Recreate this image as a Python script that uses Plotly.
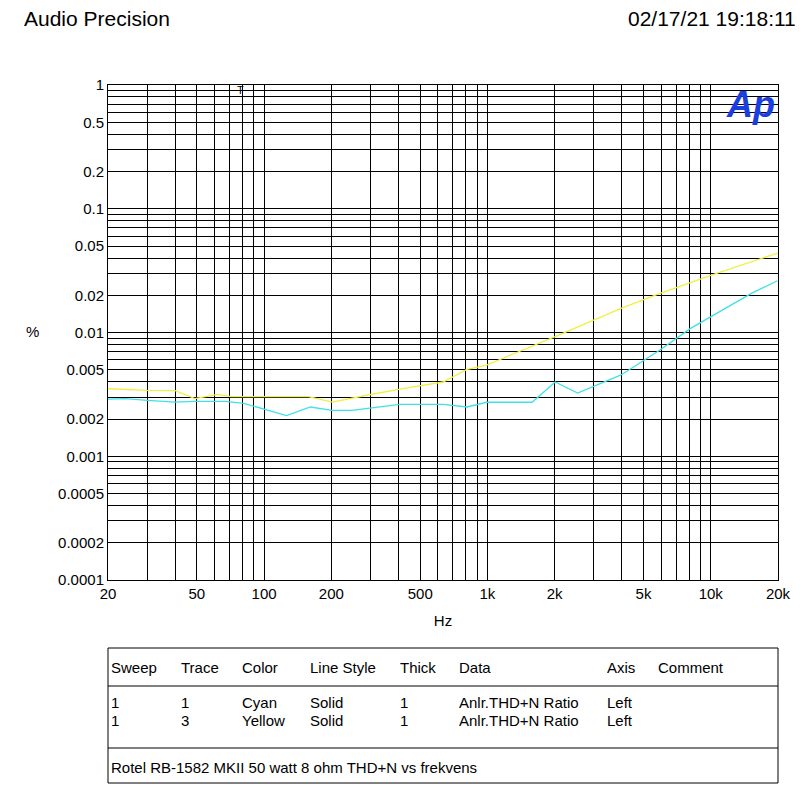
import plotly.graph_objects as go

# Trace 1 (cyan)
cyan_hz = [20, 24, 30, 40, 49, 67, 81, 126, 161, 202, 247, 405, 633, 810, 991,
           1585, 2010, 2535, 3965, 5925, 8120, 10620, 15200, 19900]
cyan_pct = [0.0029, 0.00292, 0.00283, 0.00274, 0.00278, 0.00278, 0.00268, 0.00213,
            0.0025, 0.00235, 0.00235, 0.00263, 0.00263, 0.0025, 0.00273, 0.00273,
            0.00398, 0.00324, 0.00454, 0.00723, 0.0108, 0.0143, 0.0207, 0.0262]
# Trace 3 (yellow)
yellow_hz = [20, 30, 40, 49, 62, 71, 158, 202, 296, 424, 633, 810, 991, 2010,
             3965, 5925, 10620, 15900, 20000]
yellow_pct = [0.00351, 0.00341, 0.00339, 0.00292, 0.00316, 0.00303, 0.00303, 0.00274,
              0.00314, 0.00354, 0.00398, 0.00504, 0.00546, 0.00925, 0.01568, 0.0207,
              0.0301, 0.0385, 0.0439]

x_labels = {20: "20", 50: "50", 100: "100", 200: "200", 500: "500", 1000: "1k",
            2000: "2k", 5000: "5k", 10000: "10k", 20000: "20k"}
y_labels = {1: "1", 0.5: "0.5", 0.2: "0.2", 0.1: "0.1", 0.05: "0.05", 0.02: "0.02",
            0.01: "0.01", 0.005: "0.005", 0.002: "0.002", 0.001: "0.001",
            0.0005: "0.0005", 0.0002: "0.0002", 0.0001: "0.0001"}

header = ["Sweep", "Trace", "Color", "Line Style", "Thick", "Data", "Axis", "Comment"]
rows = [["1", "1", "Cyan", "Solid", "1", "Anlr.THD+N Ratio", "Left", ""],
        ["1", "3", "Yellow", "Solid", "1", "Anlr.THD+N Ratio", "Left", ""]]
col_px = [109, 179, 240, 308, 398, 457, 605, 656]
footer = "Rotel RB-1582 MKII 50 watt 8 ohm THD+N vs frekvens"

xt = [m * 10 ** e for e in range(1, 5) for m in range(1, 10) if 20 <= m * 10 ** e <= 20000]
yt = [round(m * 10.0 ** e, 6) for e in range(-4, 1) for m in range(1, 10) if m * 10.0 ** e <= 1]

fig = go.Figure()
fig.add_trace(go.Scatter(x=cyan_hz, y=cyan_pct, mode="lines",
                         line=dict(color="#40e0e8", width=1.3)))
fig.add_trace(go.Scatter(x=yellow_hz, y=yellow_pct, mode="lines",
                         line=dict(color="#f0f040", width=1.3)))

font = dict(family="Liberation Sans, Arial", color="black")
# page has an 8px body margin, so the figure is 8px smaller and shifted
fig.update_layout(
    width=797, height=788, showlegend=False,
    margin=dict(l=100, r=27, t=77, b=216),
    paper_bgcolor="white", plot_bgcolor="white",
    font=dict(size=15, **font),
)
fig.update_xaxes(type="log", range=[1.30103, 4.30103],
                 tickvals=xt, ticktext=[x_labels.get(v, "") for v in xt],
                 showgrid=True, gridcolor="black", gridwidth=1,
                 showline=True, linecolor="black", mirror=True, ticks="",
                 zeroline=False, title=dict(text="Hz", font=dict(size=15), standoff=14))
fig.update_yaxes(type="log", range=[-4, 0],
                 tickvals=yt, ticktext=[y_labels.get(v, "") for v in yt],
                 showgrid=True, gridcolor="black", gridwidth=1,
                 showline=True, linecolor="black", mirror=True, ticks="",
                 zeroline=False)

def px_x(p):
    return (p - 108) / 670

def px_y(p):
    return (580 - p) / 495

ann = [
    dict(x=px_x(22), y=px_y(5), text="Audio Precision", xanchor="left", yanchor="top",
         font=dict(size=21)),
    dict(x=px_x(798), y=px_y(5), text="02/17/21 19:18:11", xanchor="right", yanchor="top",
         font=dict(size=21)),
    dict(x=px_x(32), y=px_y(331), text="%", xanchor="center", font=dict(size=15)),
    dict(x=px_x(750), y=px_y(104), text="<b><i>Ap</i></b>", xanchor="center",
         font=dict(size=36, color="#1a3fe0")),
    dict(x=px_x(240), y=px_y(90), text="T", xanchor="center", font=dict(size=11)),
    dict(x=px_x(109), y=px_y(767), text=footer, xanchor="left", font=dict(size=15)),
]
for c, h in zip(col_px, header):
    ann.append(dict(x=px_x(c), y=px_y(667), text=h, xanchor="left", font=dict(size=15)))
for r, yy in zip(rows, [702, 720]):
    for c, v in zip(col_px, r):
        if v:
            ann.append(dict(x=px_x(c), y=px_y(yy), text=v, xanchor="left", font=dict(size=15)))
for a in ann:
    a.setdefault("yanchor", "middle")
    a.update(xref="paper", yref="paper", showarrow=False)
    a["font"] = dict(family=font["family"], color=a["font"].get("color", "black"),
                     size=a["font"]["size"])
fig.update_layout(annotations=ann)

fig.add_shape(type="rect", xref="paper", yref="paper", x0=px_x(108), x1=px_x(778),
              y0=px_y(648), y1=px_y(783), line=dict(color="black", width=1))
for yy in [686, 748]:
    fig.add_shape(type="line", xref="paper", yref="paper", x0=px_x(108), x1=px_x(778),
                  y0=px_y(yy), y1=px_y(yy), line=dict(color="black", width=1))

fig.write_html("out.html")
